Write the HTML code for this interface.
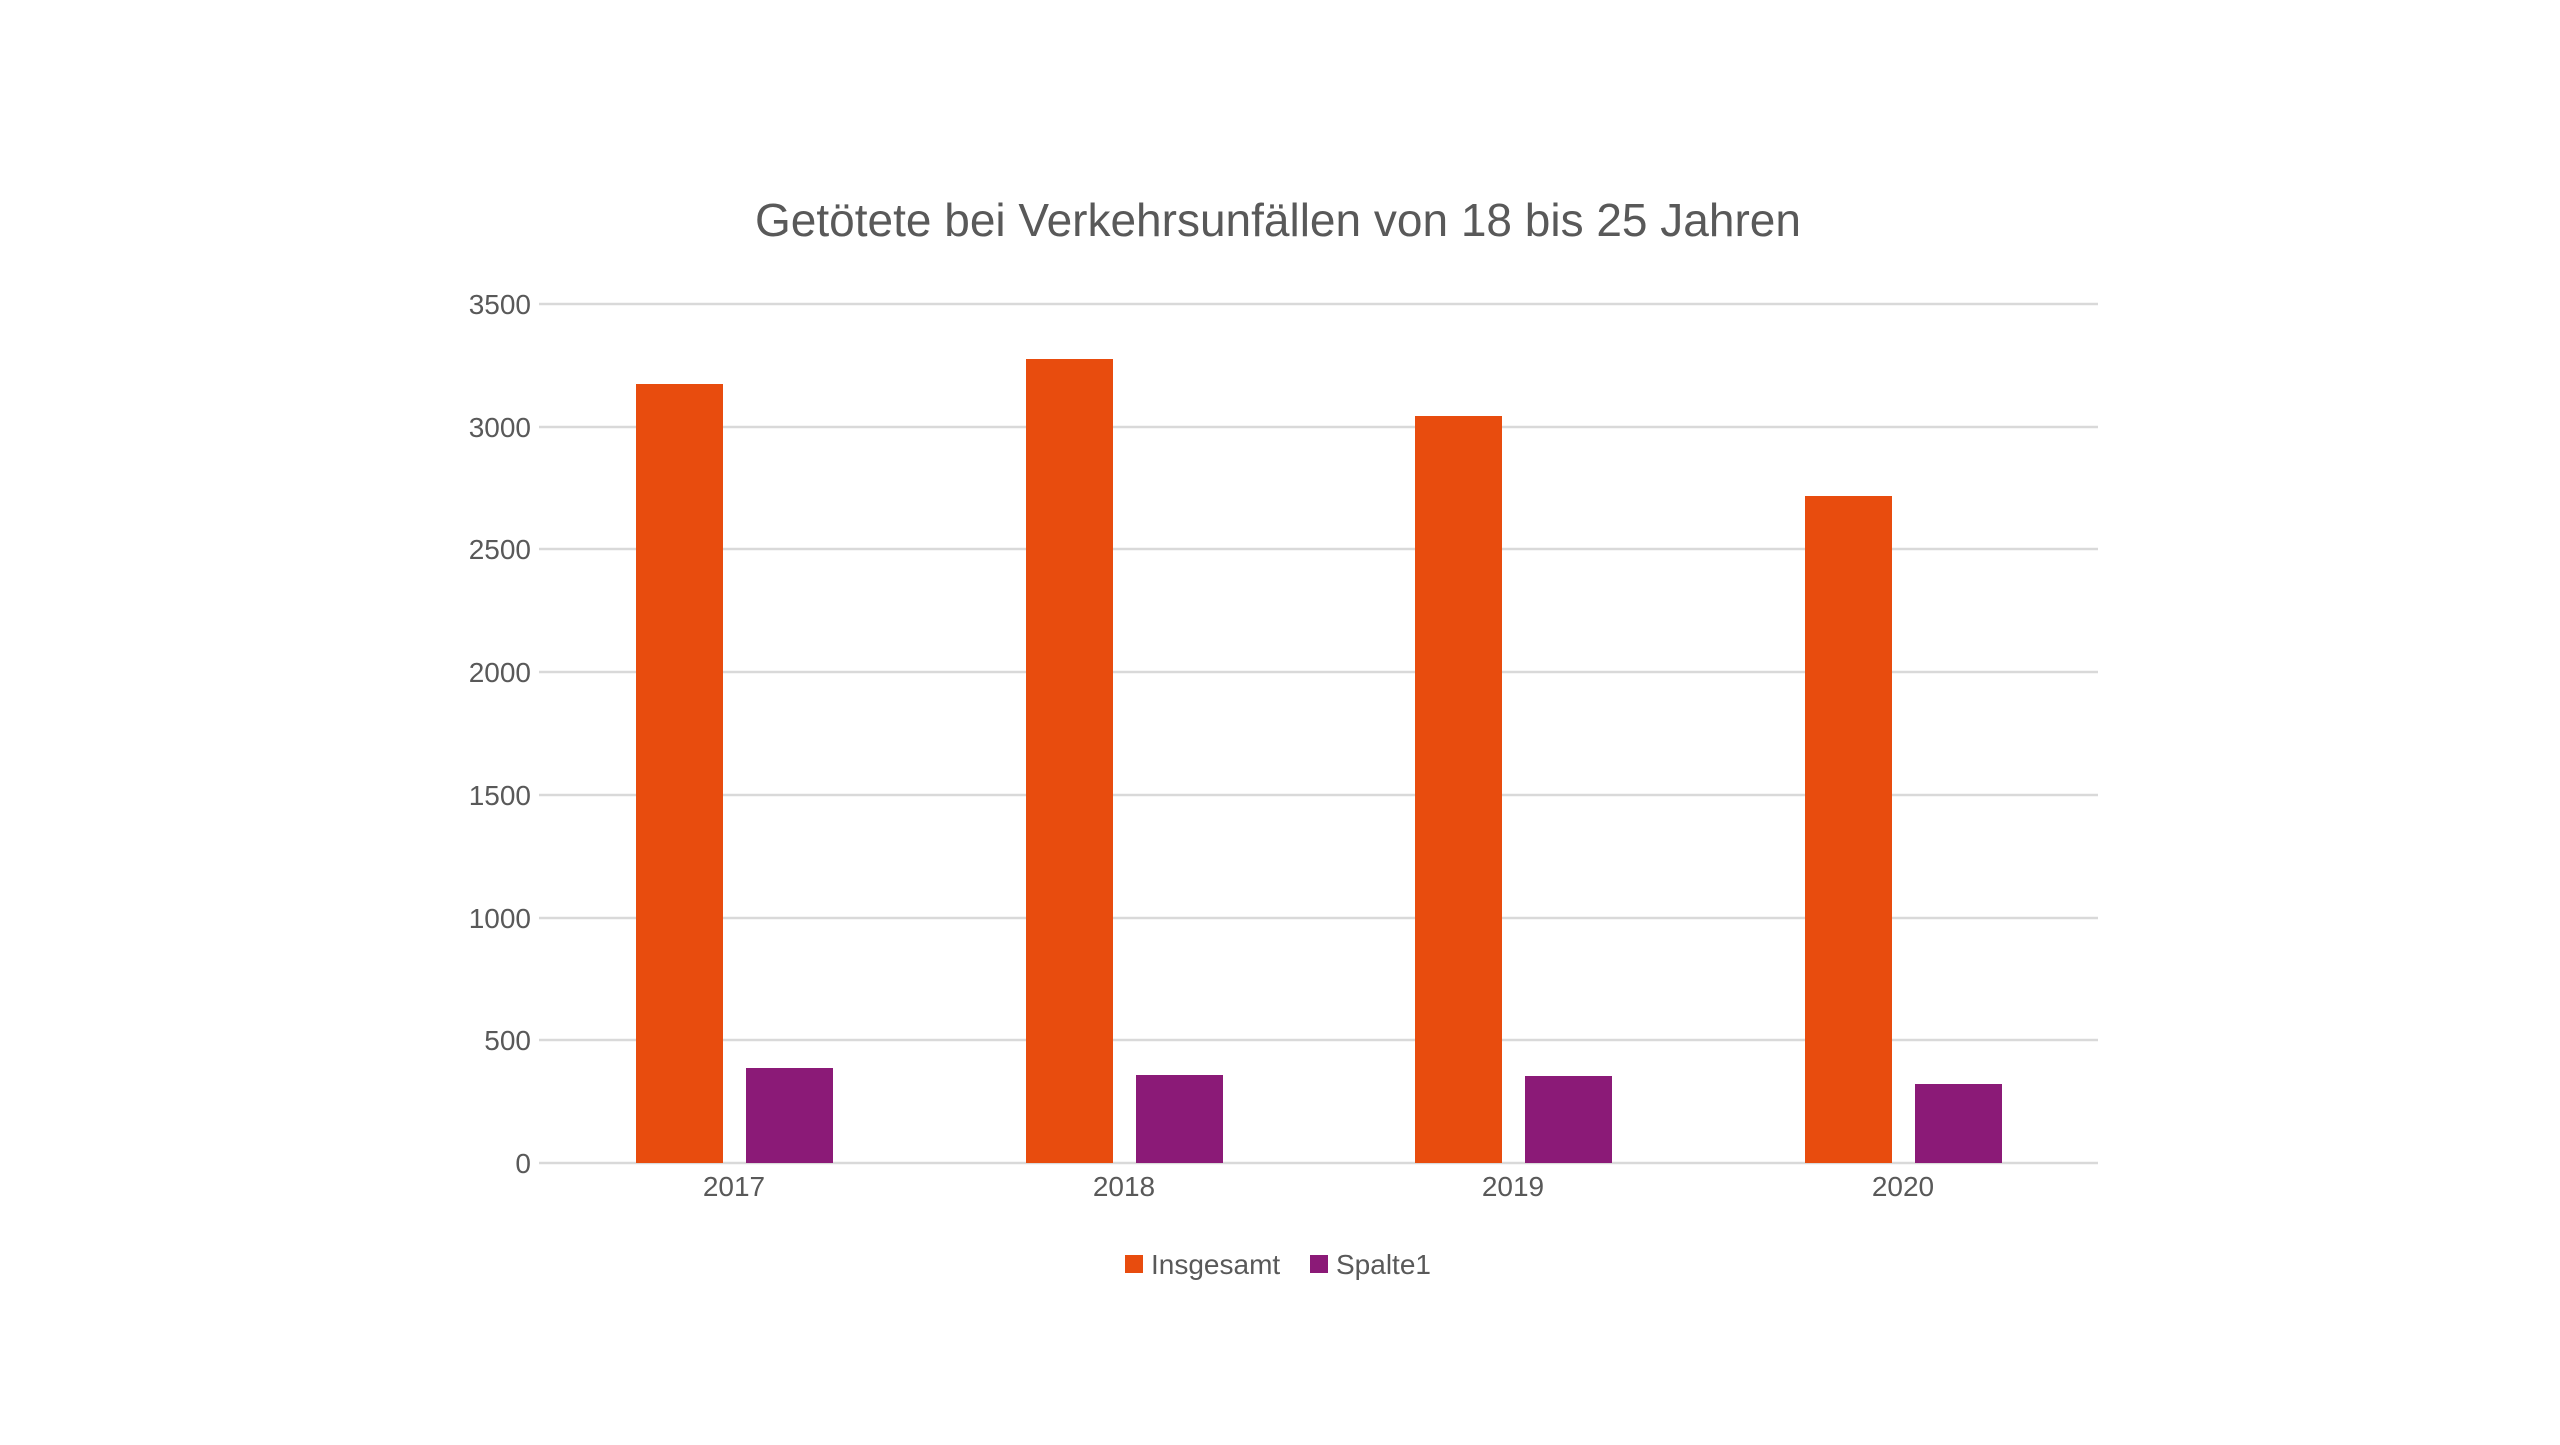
<!DOCTYPE html>
<html><head><meta charset="utf-8"><style>
html,body{margin:0;padding:0;background:#fff;}
</style></head><body>
<svg width="2560" height="1440" viewBox="0 0 2560 1440" xmlns="http://www.w3.org/2000/svg" font-family="Liberation Sans, sans-serif" fill="#595959">
<rect width="2560" height="1440" fill="#fff"/>
<text x="1278" y="236" font-size="46" text-anchor="middle">Getötete bei Verkehrsunfällen von 18 bis 25 Jahren</text>
<g stroke="#D9D9D9" stroke-width="2.5">
<line x1="539" x2="2098" y1="304" y2="304"/>
<line x1="539" x2="2098" y1="427" y2="427"/>
<line x1="539" x2="2098" y1="549" y2="549"/>
<line x1="539" x2="2098" y1="672" y2="672"/>
<line x1="539" x2="2098" y1="795" y2="795"/>
<line x1="539" x2="2098" y1="918" y2="918"/>
<line x1="539" x2="2098" y1="1040" y2="1040"/>
<line x1="539" x2="2098" y1="1163" y2="1163"/>
</g>
<g font-size="28" text-anchor="end">
<text x="531" y="314">3500</text>
<text x="531" y="437">3000</text>
<text x="531" y="559">2500</text>
<text x="531" y="682">2000</text>
<text x="531" y="805">1500</text>
<text x="531" y="928">1000</text>
<text x="531" y="1050">500</text>
<text x="531" y="1173">0</text>
</g>
<g fill="#E84C0E">
<rect x="636" y="384" width="87" height="779"/>
<rect x="1026" y="359" width="87" height="804"/>
<rect x="1415" y="416" width="87" height="747"/>
<rect x="1805" y="496" width="87" height="667"/>
</g>
<g fill="#8B1A77">
<rect x="746" y="1068" width="87" height="95"/>
<rect x="1136" y="1075" width="87" height="88"/>
<rect x="1525" y="1076" width="87" height="87"/>
<rect x="1915" y="1084" width="87" height="79"/>
</g>
<g font-size="28" text-anchor="middle">
<text x="734" y="1196">2017</text>
<text x="1124" y="1196">2018</text>
<text x="1513" y="1196">2019</text>
<text x="1903" y="1196">2020</text>
</g>
<rect x="1125" y="1255" width="18" height="18" fill="#E84C0E"/>
<text x="1151" y="1274" font-size="28">Insgesamt</text>
<rect x="1310" y="1255" width="18" height="18" fill="#8B1A77"/>
<text x="1336" y="1274" font-size="28">Spalte1</text>
</svg>
</body></html>
